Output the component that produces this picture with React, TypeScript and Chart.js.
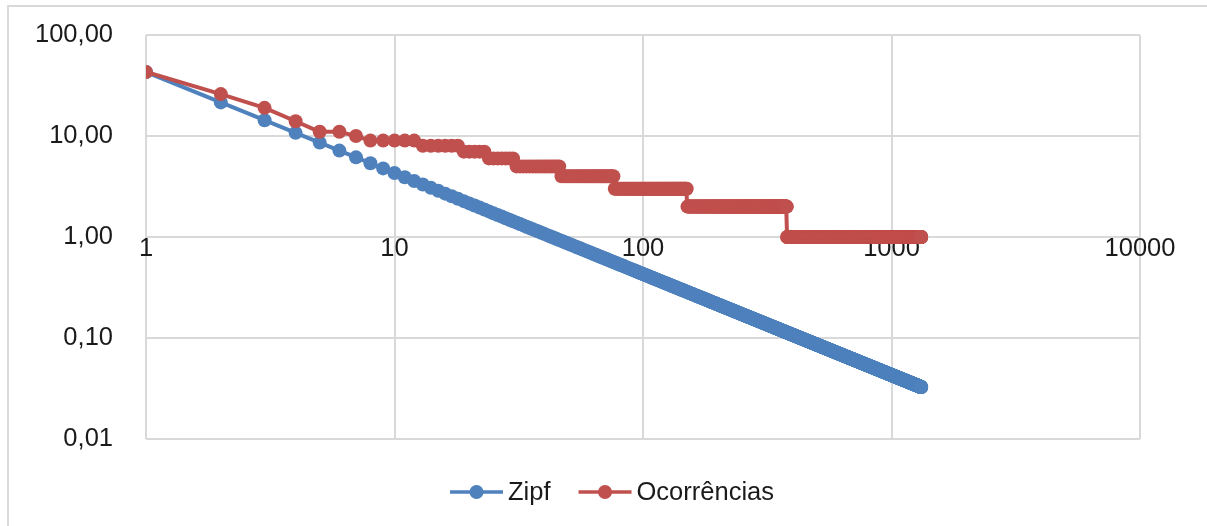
import React, { useEffect, useRef } from 'react';
import { Chart, registerables } from 'chart.js';

Chart.register(...registerables);

// Word frequencies by rank, stored as runs: each level holds up to (and including) its last rank.
const occurrenceLevels = [43, 26, 19, 14, 11, 10, 9, 8, 7, 6, 5, 4, 3, 2, 1];
const levelLastRank = [1, 2, 3, 4, 6, 7, 12, 18, 23, 30, 46, 76, 150, 379, 1317];

const seriesNames = ['Zipf', 'Ocorrências'];
const seriesColors = ['#4f81bd', '#c0504d'];

const xTickValues = [1, 10, 100, 1000, 10000];
const xTickLabels = ['1', '10', '100', '1000', '10000'];
const yTickValues = [0.01, 0.1, 1, 10, 100];
const yTickLabels = ['0,01', '0,10', '1,00', '10,00', '100,00'];

const FONT_FAMILY = '"Liberation Sans", Arial, sans-serif';
const FONT_SIZE = 25.5;
const TEXT_COLOR = '#1a1a1a';
const GRID_COLOR = '#d9d9d9';

type Pt = { x: number; y: number };

function expandOccurrences(): Pt[] {
  const pts: Pt[] = [];
  let rank = 1;
  occurrenceLevels.forEach((value, i) => {
    for (; rank <= levelLastRank[i]; rank++) pts.push({ x: rank, y: value });
  });
  return pts;
}

const occurrencePoints = expandOccurrences();
// Zipf's law prediction: the top frequency divided by the rank.
const zipfPoints: Pt[] = occurrencePoints.map((p) => ({ x: p.x, y: occurrencePoints[0].y / p.x }));

// Legend drawn as a line segment with a marker in its middle, followed by the label.
const lineMarkerLegend = {
  id: 'lineMarkerLegend',
  afterDraw(chart: any) {
    const ctx: CanvasRenderingContext2D = chart.ctx;
    const centerX = 612;
    const y = chart.chartArea.bottom + 53;
    const symbolW = 53;
    const gap = 5;
    const itemGap = 28;
    ctx.save();
    ctx.font = `${FONT_SIZE}px ${FONT_FAMILY}`;
    const items = chart.data.datasets.map((ds: any) => ({
      label: ds.label as string,
      color: ds.borderColor as string,
      w: ctx.measureText(ds.label).width,
    }));
    const total =
      items.reduce((s: number, it: any) => s + symbolW + gap + it.w, 0) + itemGap * (items.length - 1);
    let x = centerX - total / 2;
    items.forEach((it: any) => {
      ctx.strokeStyle = it.color;
      ctx.lineWidth = 3.5;
      ctx.lineCap = 'butt';
      ctx.beginPath();
      ctx.moveTo(x, y);
      ctx.lineTo(x + symbolW, y);
      ctx.stroke();
      ctx.fillStyle = it.color;
      ctx.beginPath();
      ctx.arc(x + symbolW / 2, y, 7, 0, Math.PI * 2);
      ctx.fill();
      ctx.fillStyle = TEXT_COLOR;
      ctx.textBaseline = 'middle';
      ctx.textAlign = 'left';
      ctx.fillText(it.label, x + symbolW + gap, y + 1);
      x += symbolW + gap + it.w + itemGap;
    });
    ctx.restore();
  },
};

export default function App() {
  const canvasRef = useRef<HTMLCanvasElement | null>(null);

  useEffect(() => {
    const canvas = canvasRef.current;
    if (!canvas) return;
    const tickFont = { family: FONT_FAMILY, size: FONT_SIZE };
    const chart = new Chart(canvas, {
      type: 'scatter',
      data: {
        datasets: [
          {
            label: seriesNames[0],
            data: zipfPoints,
            showLine: true,
            borderColor: seriesColors[0],
            backgroundColor: seriesColors[0],
            pointBackgroundColor: seriesColors[0],
            pointBorderColor: seriesColors[0],
            order: 1,
          },
          {
            label: seriesNames[1],
            data: occurrencePoints,
            showLine: true,
            borderColor: seriesColors[1],
            backgroundColor: seriesColors[1],
            pointBackgroundColor: seriesColors[1],
            pointBorderColor: seriesColors[1],
            order: 0,
          },
        ],
      },
      options: {
        animation: false,
        responsive: false,
        layout: { padding: { left: 0, top: 35, right: 67, bottom: 87 } },
        plugins: { legend: { display: false }, tooltip: { enabled: false } },
        elements: {
          point: { radius: 7, hoverRadius: 7, borderWidth: 0 },
          line: { borderWidth: 4, tension: 0, borderJoinStyle: 'round' },
        },
        scales: {
          x: {
            type: 'logarithmic',
            min: 1,
            max: 10000,
            position: { y: 1 } as any,
            afterBuildTicks: (s: any) => {
              s.ticks = xTickValues.map((v) => ({ value: v }));
            },
            ticks: {
              callback: (v: any) => xTickLabels[xTickValues.indexOf(Number(v))],
              font: tickFont,
              color: TEXT_COLOR,
              padding: -3,
              autoSkip: false,
              maxRotation: 0,
            },
            grid: { color: GRID_COLOR, lineWidth: 2, drawTicks: false },
            border: { display: false },
          },
          y: {
            type: 'logarithmic',
            min: 0.01,
            max: 100,
            position: 'left',
            afterFit: (s: any) => {
              s.width = 146;
              // label gap only applies sideways; keep it out of the vertical padding
              s.paddingTop = 0;
              s.paddingBottom = 0;
            },
            afterBuildTicks: (s: any) => {
              s.ticks = yTickValues.map((v) => ({ value: v }));
            },
            ticks: {
              callback: (v: any) => yTickLabels[yTickValues.indexOf(Number(v))],
              font: tickFont,
              color: TEXT_COLOR,
              padding: 33,
              autoSkip: false,
            },
            grid: { color: GRID_COLOR, lineWidth: 2, drawTicks: false },
            border: { display: false },
          },
        },
      },
      plugins: [lineMarkerLegend],
    } as any);
    return () => chart.destroy();
  }, []);

  return (
    <div
      style={{
        position: 'fixed',
        left: 0,
        top: 0,
        width: 1207,
        height: 526,
        overflow: 'hidden',
        background: '#ffffff',
      }}
    >
      <div
        style={{
          position: 'absolute',
          left: 7,
          top: 5,
          width: 1240,
          height: 560,
          borderTop: `2px solid ${GRID_COLOR}`,
          borderLeft: `2px solid ${GRID_COLOR}`,
        }}
      />
      <canvas
        ref={canvasRef}
        width={1207}
        height={526}
        style={{ position: 'absolute', left: 0, top: 0, display: 'block' }}
      />
    </div>
  );
}
